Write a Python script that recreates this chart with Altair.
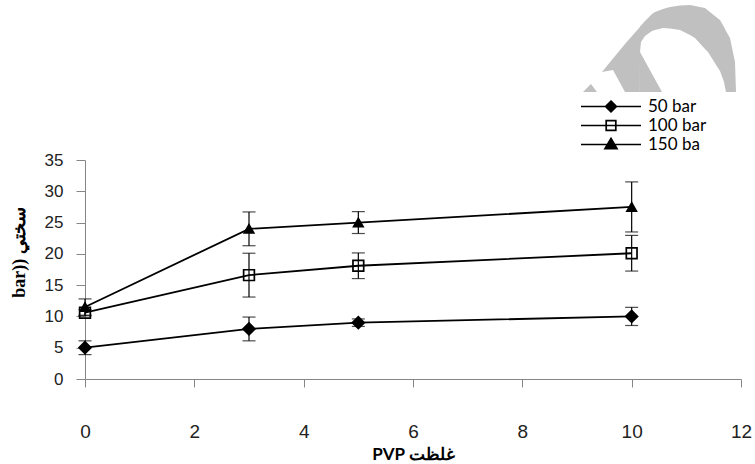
import altair as alt
import pandas as pd

# PVP concentration (x) and hardness (bar) for three pressures
pvp = [0, 3, 5, 10]
series = ["50 bar", "100 bar", "150 ba"]

hard_50 = [5.0, 8.0, 9.0, 10.0]
err_50 = [1.1, 1.9, 0.6, 1.45]
hard_100 = [10.6, 16.6, 18.1, 20.1]
err_100 = [0.5, 3.5, 2.05, 2.85]
hard_150 = [11.5, 24.0, 25.0, 27.5]
err_150 = [1.3, 2.7, 1.75, 4.0]

x_ticks = [0, 2, 4, 6, 8, 10, 12]
y_ticks = [0, 5, 10, 15, 20, 25, 30, 35]

# page layout: plot-area offset inside the 755x464 canvas
LEFT, TOP, RIGHT, BOTTOM = 85, 160, 14, 85
W, H = 755 - LEFT - RIGHT, 464 - TOP - BOTTOM

# grey badge outline in the upper right (canvas pixels): arch band, wedge below
# the hole's left edge, and a small sliver at the lower left
badge_x = [602, 613, 625, 639.9, 640, 641, 645, 652, 655, 663, 670, 680, 690, 695, 705, 708, 718, 720, 724, 726, 730, 735, 736]
badge_top = [72, 58.6, 44, 27, 26.5, 25.5, 21, 14, 12, 9, 7, 5.5, 5, 6, 8, 10.4, 18.4, 20, 27, 31, 38, 62, 92]
badge_bot = [72, 70, 92, 92, 52, 42, 36, 31, 30, 28, 28.5, 30, 35, 38, 49, 52, 68, 71, 82, 92, 92, 92, 92]
wedge_x = [640, 662]
wedge_top = [52, 92]
wedge_bot = [92, 92]
sliver_x = [583, 591, 597]
sliver_top = [92, 84, 92]
sliver_bot = [92, 92, 92]

rows = []
for name, ys, es in [(series[0], hard_50, err_50),
                     (series[1], hard_100, err_100),
                     (series[2], hard_150, err_150)]:
    for x, y, e in zip(pvp, ys, es):
        rows.append({"x": x, "y": y, "lo": y - e, "hi": y + e, "series": name})
df = pd.DataFrame(rows)


def outline(xs_, top_, bot_):
    return pd.DataFrame({"px": [v - LEFT for v in xs_],
                         "py": [v - TOP for v in top_],
                         "py2": [v - TOP for v in bot_]})


GREY = "#c0c0c0"
AXIS_GREY = "#868686"
TICK_FONT = "Liberation Sans"

xs = alt.Scale(domain=[0, 12], nice=False, zero=False)
ys = alt.Scale(domain=[0, 35], nice=False)

x_axis = alt.Axis(values=x_ticks, grid=False, format="d",
                  domainColor=AXIS_GREY, tickColor=AXIS_GREY, tickSize=8,
                  labelFont=TICK_FONT, labelFontSize=19, labelColor="#222222",
                  labelPadding=50, labelBaseline="alphabetic", labelFlush=False,
                  labelOverlap=False,
                  titleFont="Lato", titleFontWeight="bold", titleFontSize=17,
                  titleColor="black", titleY=80, titleBaseline="alphabetic")
y_axis = alt.Axis(values=y_ticks, grid=False, format="d",
                  domainColor=AXIS_GREY, tickColor=AXIS_GREY, tickSize=9,
                  labelFont=TICK_FONT, labelFontSize=17, labelColor="#222222",
                  labelPadding=13, labelOverlap=False,
                  titleFont="Liberation Serif", titleFontWeight="bold",
                  titleFontSize=18, titleColor="black", titleX=19 - LEFT,
                  titleY=252 - TOP, titleBaseline="middle", titleAlign="center")

Y_TITLE = "bar)) سختي"
X = alt.X("x:Q", scale=xs, axis=x_axis, title="PVP غلظت")
Y = alt.Y("y:Q", scale=ys, axis=y_axis, title=Y_TITLE)

base = alt.Chart(df)

lines = base.mark_line(color="black", strokeWidth=1.8).encode(x=X, y=Y, detail="series:N")

bars = base.mark_rule(color="black", strokeWidth=1.2).encode(
    x=X, y=alt.Y("lo:Q", scale=ys, axis=y_axis, title=Y_TITLE), y2="hi:Q")
cap_lo = base.mark_tick(color="black", thickness=1.2, size=13, orient="horizontal").encode(
    x=X, y=alt.Y("lo:Q", scale=ys, axis=y_axis, title=Y_TITLE))
cap_hi = base.mark_tick(color="black", thickness=1.2, size=13, orient="horizontal").encode(
    x=X, y=alt.Y("hi:Q", scale=ys, axis=y_axis, title=Y_TITLE))

points = base.mark_point(opacity=1, strokeWidth=1.7).encode(
    x=X, y=Y,
    shape=alt.Shape("series:N", scale=alt.Scale(domain=series, range=["diamond", "square", "triangle-up"]), legend=None),
    fill=alt.Fill("series:N", scale=alt.Scale(domain=series, range=["black", "transparent", "black"]), legend=None),
    size=alt.Size("series:N", scale=alt.Scale(domain=series, range=[140, 90, 150]), legend=None),
    stroke=alt.value("black"),
)

# legend: line segment with the series marker on it (unit-square symbol paths)
legend_paths = [
    "M-1,0L1,0M0,-0.18L0.18,0L0,0.18L-0.18,0Z",
    "M-1,0L1,0M-0.16,-0.16L0.16,-0.16L0.16,0.16L-0.16,0.16Z",
    "M-1,0L1,0M0,-0.2L0.2,0.14L-0.2,0.14Z",
]
legend = alt.Legend(title=None, orient="none", legendX=611 - 31 - LEFT, legendY=-63,
                    symbolSize=3600, symbolStrokeColor="black", symbolStrokeWidth=1.7,
                    labelFont="Lato", labelFontSize=17, labelColor="black",
                    clipHeight=19, rowPadding=0, labelOffset=6, padding=0,
                    symbolOffset=0)
legend_layer = base.transform_filter("datum.x < 0").mark_point(opacity=1, strokeWidth=1.7).encode(
    x=X, y=Y,
    shape=alt.Shape("series:N", scale=alt.Scale(domain=series, range=legend_paths), legend=legend, sort=series),
    fill=alt.Fill("series:N", scale=alt.Scale(domain=series, range=["black", "transparent", "black"]), legend=legend, sort=series),
    stroke=alt.Stroke("series:N", scale=alt.Scale(domain=series, range=["black", "black", "black"]), legend=legend, sort=series),
)

plot = alt.layer(lines, bars, cap_lo, cap_hi, points, legend_layer).resolve_scale(
    shape="independent", fill="independent", size="independent", stroke="independent")

px = alt.X("px:Q", scale=None, axis=None)
py = alt.Y("py:Q", scale=None, axis=None)
decor = alt.layer(*[
    alt.Chart(outline(a, b, c)).mark_area(color=GREY).encode(x=px, y=py, y2="py2:Q")
    for a, b, c in [(badge_x, badge_top, badge_bot),
                    (wedge_x, wedge_top, wedge_bot),
                    (sliver_x, sliver_top, sliver_bot)]
])

chart = alt.layer(decor, plot).resolve_scale(x="independent", y="independent").properties(
    width=W, height=H, autosize="none",
    padding={"left": LEFT, "top": TOP, "right": RIGHT, "bottom": BOTTOM},
    background="white",
).configure_view(stroke=None)

chart.save("out.html", embed_options={"renderer": "svg", "actions": False})
